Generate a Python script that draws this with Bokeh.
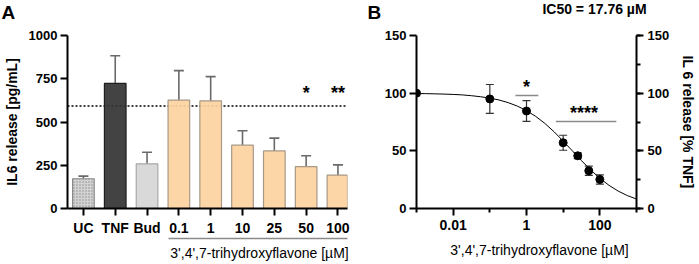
from bokeh.plotting import figure
from bokeh.models import (Range1d, FixedTicker, LinearAxis, LogAxis, ColumnDataSource, Whisker,
                          TeeHead, Label, SingleIntervalTicker)
from bokeh.layouts import row
from bokeh.embed import file_html
from bokeh.resources import INLINE
from bokeh.core.properties import value

FONT = "Liberation Sans"

# ---------------- Panel A data ----------------
categories = ["UC", "TNF", "Bud", "0.1", "1", "10", "25", "50", "100"]
release_mean = [172, 723, 258, 626, 622, 366, 333, 242, 193]
release_err = [15, 160, 67, 171, 140, 83, 74, 63, 59]
bar_fill = ["#cfcfcf", "#333333", "#d6d6d6"] + ["#fdd39f"] * 6
bar_line = ["#8a8a8a", "#1e1e1e", "#a8a8a8"] + ["#a89886"] * 6
bar_hatch = ["dot"] + [" "] * 8
threshold = 592
star_cats = ["50", "100"]
star_text = ["*", "**"]
star_level_A = 668
y_ticks_A = [0, 250, 500, 750, 1000]
x_title = "3',4',7-trihydroxyflavone [µM]"

# ---------------- Panel B data ----------------
conc = [0.001, 0.1, 1, 10, 25, 50, 100]
pct_mean = [100, 95, 84.5, 57, 45.7, 32.7, 25.2]
pct_err = [0, 12.5, 9, 6.5, 2.5, 4, 4]
curve_x = [0.001, 0.00178, 0.00316, 0.00562, 0.01, 0.0178, 0.0316, 0.0562, 0.1, 0.178,
           0.316, 0.562, 1, 1.78, 3.16, 5.62, 10, 17.8, 31.6, 56.2, 100, 178, 316, 562, 1000]
curve_y = [99.7, 99.6, 99.4, 99.2, 98.9, 98.5, 97.8, 96.9, 95.7, 94.1,
           91.8, 88.8, 84.9, 79.9, 73.8, 66.6, 58.5, 50.0, 41.5, 33.4, 26.2, 20.1, 15.1, 11.2, 8.2]
sig_x0 = [0.5, 6.3]
sig_x1 = [2.1, 282]
sig_y = [98, 75.5]
sig_text_x = [1.0, 37]
sig_text_y = [105, 82.4]
sig_text = ["*", "****"]
ic50_text = "IC50 = 17.76 µM"
y_ticks_B = [0, 50, 100, 150]


def style_axis(ax, tick_size="13px"):
    ax.axis_line_width = 2
    ax.axis_line_color = "black"
    ax.major_tick_line_width = 2
    ax.major_tick_line_color = "black"
    ax.major_tick_out = 7
    ax.major_tick_in = 0
    ax.minor_tick_line_width = 2
    ax.minor_tick_line_color = "black"
    ax.minor_tick_out = 4
    ax.minor_tick_in = 0
    ax.major_label_text_font = FONT
    ax.major_label_text_font_style = "bold"
    ax.major_label_text_font_size = tick_size
    ax.major_label_text_color = "black"
    ax.axis_label_text_font = FONT
    ax.axis_label_text_font_style = "bold"
    ax.axis_label_text_font_size = "14px"
    ax.axis_label_text_color = "black"


def canvas_label(text, x, y, size, style="bold", align="left"):
    return Label(x=x, y=y, x_units="canvas", y_units="canvas", text=text, text_font=FONT,
                 text_font_style=style, text_font_size=size, text_baseline="alphabetic",
                 text_align=align, text_color="black")


# ================= Panel A =================
xs = list(range(len(categories)))
pA = figure(width=350, height=264, output_backend="svg", toolbar_location=None,
            x_range=Range1d(-0.5, 8.3), y_range=Range1d(0, 1000),
            min_border_left=63, min_border_right=3, min_border_top=35, min_border_bottom=56,
            x_axis_location=None, y_axis_location=None)
pA.grid.visible = False
pA.outline_line_color = None
pA.background_fill_color = "white"

pA.line(x=[-0.5, 8.3], y=[threshold, threshold], line_color="black", line_width=1.5,
        line_dash="2 2")

srcA = ColumnDataSource(dict(x=xs, top=release_mean, upper=[m + e for m, e in zip(release_mean, release_err)],
                             fill=bar_fill, line=bar_line, hatch=bar_hatch))
pA.vbar(x="x", top="top", width=0.68, source=srcA, fill_color="fill", line_color="line",
        line_width=1.2, hatch_pattern="hatch", hatch_color="#8c8c8c", hatch_scale=3, hatch_weight=1,
        fill_alpha=0.92)
pA.add_layout(Whisker(base="x", lower="top", upper="upper", source=srcA, dimension="height",
                      line_color="#6a6a6a", line_width=1.6,
                      upper_head=TeeHead(size=10, line_color="#6a6a6a", line_width=1.6),
                      lower_head=None))

pA.text(x=[categories.index(c) for c in star_cats], y=[star_level_A] * len(star_cats), text=star_text,
        text_font=value(FONT), text_font_style="bold", text_font_size="18px",
        text_align="center", text_baseline="alphabetic", text_color="black")

yA = LinearAxis(ticker=FixedTicker(ticks=y_ticks_A), axis_label="IL6 release [pg/mL]")
style_axis(yA)
yA.major_label_standoff = 3
yA.axis_label_standoff = 6
pA.add_layout(yA, "left")

xA = LinearAxis(ticker=FixedTicker(ticks=xs),
                major_label_overrides={i: c for i, c in enumerate(categories)})
style_axis(xA, "14px")
xA.major_label_standoff = 4
pA.add_layout(xA, "below")

xA2 = LinearAxis(ticker=FixedTicker(ticks=[]), bounds=(2.66, 8.3))
style_axis(xA2)
xA2.axis_line_color = "#8a8a8a"
xA2.axis_line_width = 1.5
pA.add_layout(xA2, "below")

pA.add_layout(canvas_label(x_title, 259, 252, "14px", style="normal", align="center"), "below")
pA.add_layout(canvas_label("A", 1, 12, "19px"), "above")

# ================= Panel B =================
pB = figure(width=349, height=264, output_backend="svg", toolbar_location=None,
            x_axis_type="log", x_range=Range1d(0.001, 1000), y_range=Range1d(0, 150),
            min_border_left=66, min_border_right=54, min_border_top=35, min_border_bottom=56,
            x_axis_location=None, y_axis_location=None)
pB.grid.visible = False
pB.outline_line_color = None

pB.line(x=curve_x, y=curve_y, line_color="black", line_width=1)

srcB = ColumnDataSource(dict(x=conc[1:], y=pct_mean[1:],
                             lo=[m - e for m, e in zip(pct_mean[1:], pct_err[1:])],
                             hi=[m + e for m, e in zip(pct_mean[1:], pct_err[1:])]))
pB.add_layout(Whisker(base="x", lower="lo", upper="hi", source=srcB, dimension="height",
                      line_color="#333333", line_width=1.2,
                      upper_head=TeeHead(size=8, line_color="#333333", line_width=1.2),
                      lower_head=TeeHead(size=8, line_color="#333333", line_width=1.2)))
pB.scatter(x=conc, y=pct_mean, size=8, color="black")

pB.segment(x0=sig_x0, y0=sig_y, x1=sig_x1, y1=sig_y, line_color="#8a8a8a", line_width=1.5)
pB.text(x=sig_text_x, y=sig_text_y, text=sig_text, text_font=value(FONT), text_font_style="bold",
        text_font_size="18px", text_align="center", text_baseline="alphabetic", text_color="black")

yB = LinearAxis(ticker=FixedTicker(ticks=y_ticks_B))
style_axis(yB)
yB.major_label_standoff = 3
pB.add_layout(yB, "left")

yB2 = LinearAxis(ticker=SingleIntervalTicker(interval=50, num_minor_ticks=2),
                 axis_label="IL 6 release [% TNF]")
style_axis(yB2)
yB2.major_label_standoff = 4
yB2.axis_label_standoff = 8
pB.add_layout(yB2, "right")

xB = LogAxis(ticker=FixedTicker(ticks=[0.01, 1, 100], minor_ticks=[0.001, 0.1, 10, 1000]),
             major_label_overrides={0.01: "0.01", 1: "1", 100: "100"})
style_axis(xB, "14px")
xB.major_label_standoff = 4
pB.add_layout(xB, "below")

pB.add_layout(canvas_label(x_title, 189, 249, "14px", style="normal", align="center"), "below")
pB.add_layout(canvas_label("B", 17, 12, "19px"), "left")
pB.add_layout(canvas_label(ic50_text, 244, 8, "14px", align="center"), "above")

layout = row(pA, pB)
open("out.html", "w").write(file_html(layout, INLINE))
